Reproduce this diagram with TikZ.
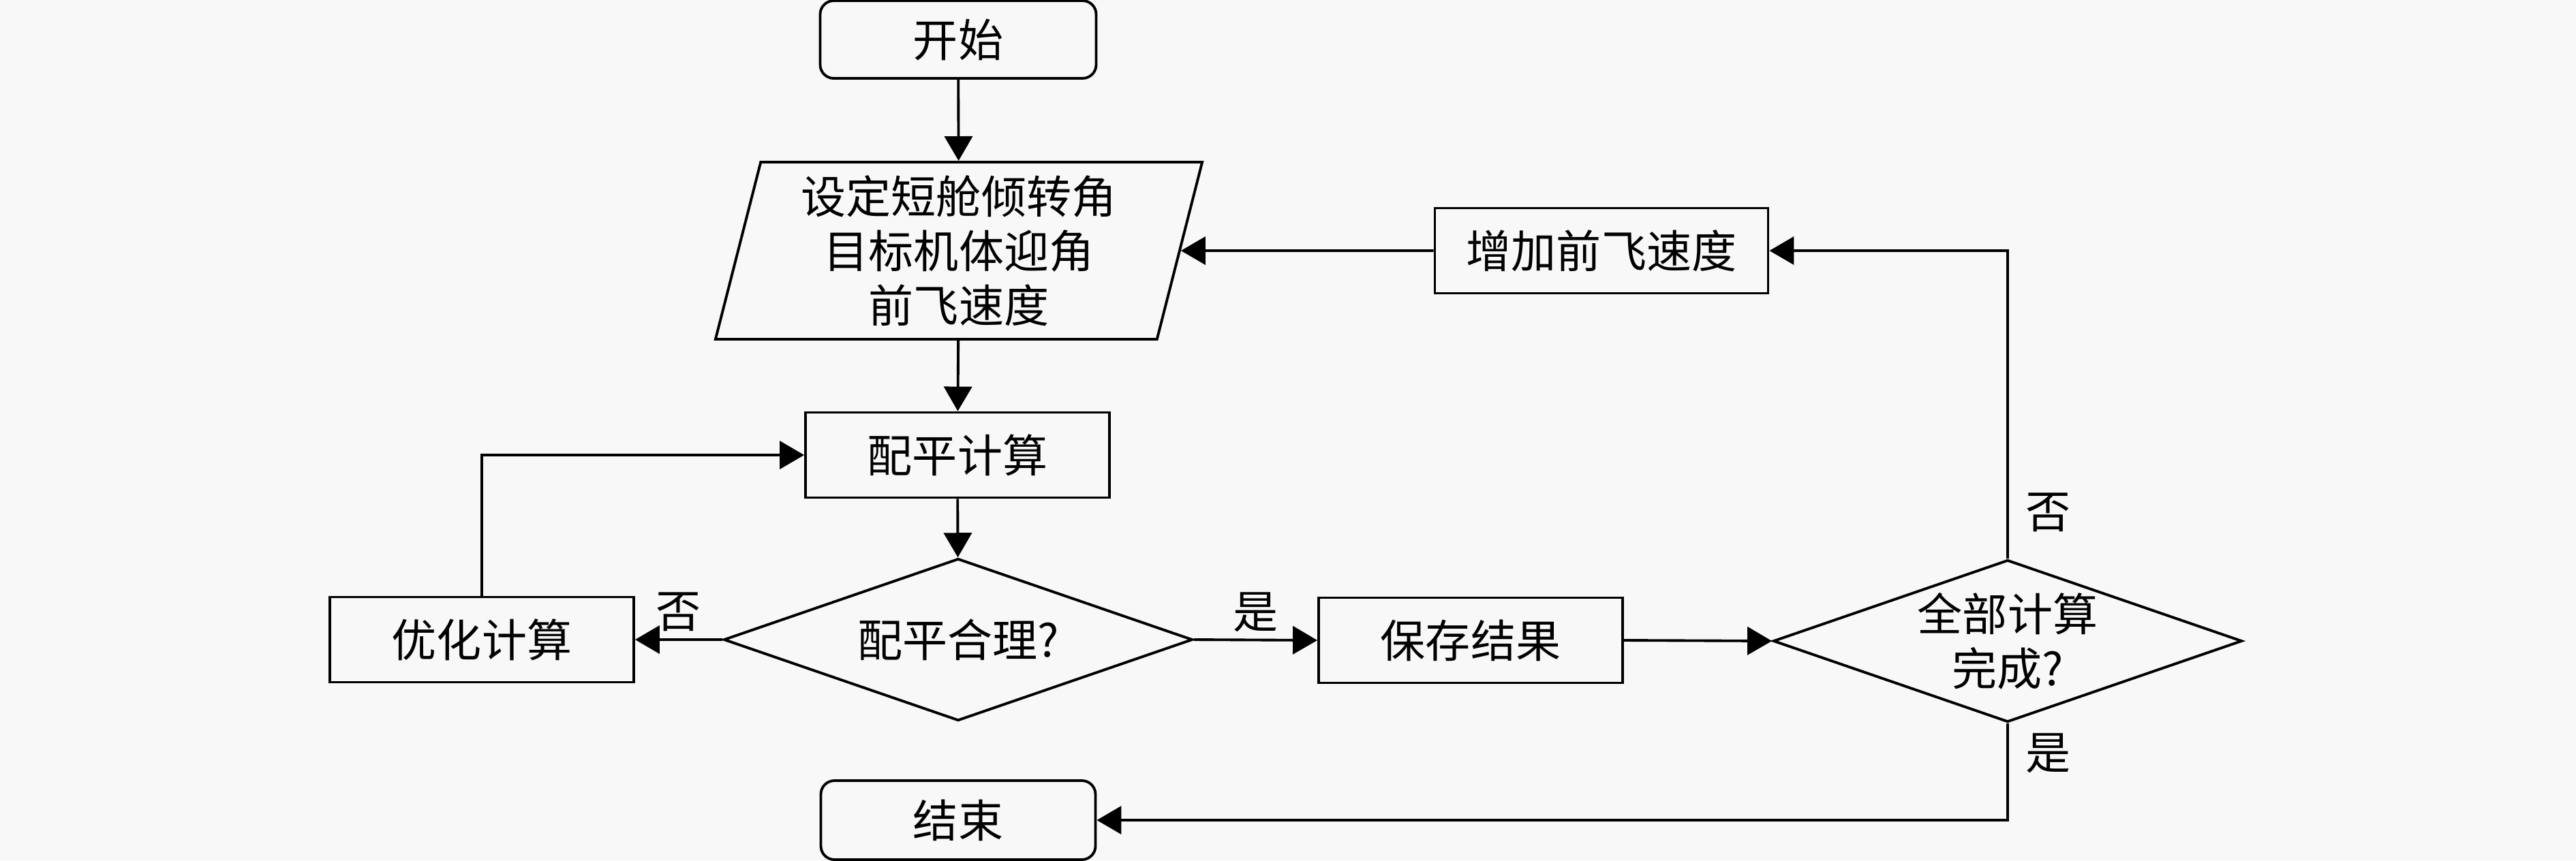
\documentclass[tikz,border=0pt]{standalone}
\usepackage{fontspec}
\setmainfont{Noto Sans CJK SC}
\usetikzlibrary{shapes.geometric,arrows.meta}
\definecolor{bgcol}{HTML}{F8F8F8}

\begin{document}
\begin{tikzpicture}[
  line width=1.1pt,
  every node/.style={font=\fontsize{18.8}{22.8}\selectfont, align=center},
  procbox/.style={draw, rectangle, inner sep=0pt, minimum width=4.46cm, minimum height=1.25cm},
  termbox/.style={draw, rectangle, rounded corners=0.2cm, inner sep=0pt, minimum width=4.05cm, minimum height=1.14cm},
  iobox/.style={draw, trapezium, trapezium left angle=76.6, trapezium right angle=103.4,
                trapezium stretches=true, inner sep=0pt, minimum width=7.15cm, minimum height=2.6cm},
  testbox/.style={draw, diamond, aspect=2.85, inner sep=0pt, minimum width=6.88cm, minimum height=2.38cm},
  arr/.style={-{Triangle[length=0.36cm,width=0.41cm]}},
  lbl/.style={inner sep=0.1cm}
]
\fill[bgcol] (0,0) rectangle (37.8,-12.63);
\useasboundingbox (0,0) rectangle (37.8,-12.63);

\node[termbox] (start) at (14.06,-0.58) {开始};
\node[iobox] (input) at (14.07,-3.68) {设定短舱倾转角\\目标机体迎角\\前飞速度};
\node[procbox] (calc) at (14.05,-6.68) {配平计算};
\node[testbox] (check) at (14.06,-9.39) {配平合理?};
\node[procbox] (opt) at (7.07,-9.39) {优化计算};
\node[procbox] (save) at (21.58,-9.40) {保存结果};
\node[testbox] (done) at (29.46,-9.41) {全部计算\\完成?};
\node[procbox, minimum width=4.89cm] (inc) at (23.50,-3.68) {增加前飞速度};
\node[termbox, minimum width=4.03cm, minimum height=1.16cm] (end) at (14.06,-12.04) {结束};

\draw[arr] (start) -- (input);
\draw[arr] (input) -- (calc);
\draw[arr] (calc) -- (check);
\draw[arr] (check.west) -- node[above, lbl] {否} (opt.east);
\draw[arr] (opt.north) |- (calc.west);
\draw[arr] (check.east) -- node[above, lbl] {是} (save.west);
\draw[arr] (save.east) -- (done.west);
\draw[arr] (done.north) |- node[right, pos=0.075, lbl, inner sep=0.25cm] {否} (inc.east);
\draw[arr] (done.south) |- node[right, pos=0.153, lbl, inner sep=0.25cm] {是} (end.east);
\draw[arr] (inc.west) -- (input.east);

\end{tikzpicture}
\end{document}
